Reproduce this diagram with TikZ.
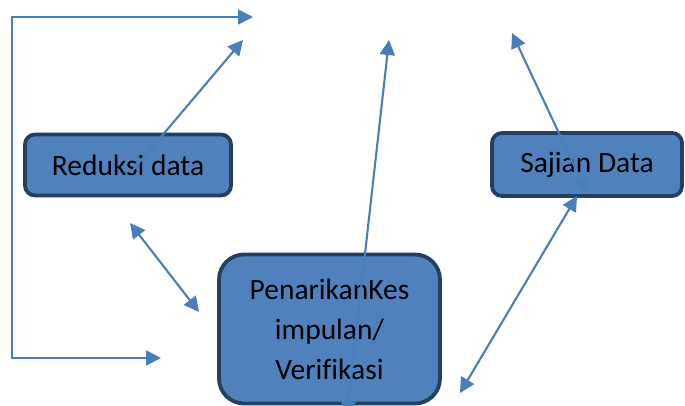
\documentclass[tikz,border=0pt]{standalone}
\usepackage{fontspec}
\setmainfont[Ligatures=NoCommon]{Carlito}
\usetikzlibrary{arrows.meta}
\definecolor{boxfill}{HTML}{4F81BD}
\definecolor{boxline}{HTML}{243F60}
\definecolor{arrowcol}{HTML}{4A7EBB}
\tikzset{
  procbox/.style={draw=boxline, line width=3.8pt, fill=boxfill, rounded corners=10pt,
    inner sep=0pt, text=black, font=\fontsize{29.5}{40}\selectfont, align=center},
  conn/.style={draw=arrowcol, line width=2.1pt, line join=miter},
  headend/.style={-{Triangle[length=15pt,width=15pt]}},
  bothends/.style={{Triangle[length=15pt,width=15pt]}-{Triangle[length=15pt,width=15pt]}}
}
\begin{document}
\begin{tikzpicture}[x=1pt,y=-1pt]
\useasboundingbox (0,0) rectangle (685,406);
% boxes
\node[procbox, minimum width=206pt, minimum height=61pt] (red) at (128,165) {Reduksi data};
\node[procbox, minimum width=190pt, minimum height=63pt] (saj) at (587,164.5) {Sajian Data};
\node[procbox, rounded corners=25pt, minimum width=221pt, minimum height=149pt] (pen) at (329.5,329) {PenarikanKes\\impulan/\\Verifikasi};
% free ends
\coordinate (fbTop) at (253,17);
\coordinate (fbTL) at (12,17);
\coordinate (fbBL) at (12,358);
\coordinate (fbBot) at (161,358);
\coordinate (rStart) at (133,170);
\coordinate (rTip) at (243,40);
\coordinate (dA) at (130,223);
\coordinate (dB) at (199,312);
\coordinate (longBot) at (346.8,416);
\coordinate (longTop) at (389,40);
\coordinate (sIn) at (587,193);
\coordinate (sTip) at (512,33);
\coordinate (sBot) at (577,196);
\coordinate (pRight) at (460,393);
% connectors
\draw[conn, bothends] (fbTop) -- (fbTL) -- (fbBL) -- (fbBot);
\draw[conn, headend] (rStart) -- (rTip);
\draw[conn, bothends] (dA) -- (dB);
\draw[conn, bothends] (longBot) -- (longTop);
\draw[conn, bothends] (sIn) -- (sTip);
\draw[conn, bothends] (sBot) -- (pRight);
\end{tikzpicture}
\end{document}
